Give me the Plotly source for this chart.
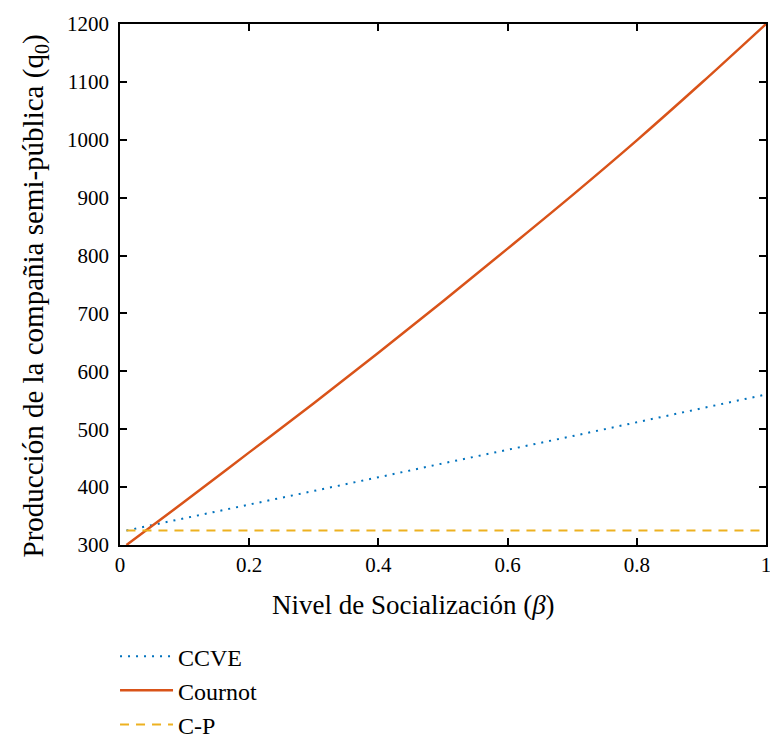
import plotly.graph_objects as go

beta = [0.01, 0.1, 0.2, 0.3, 0.4, 0.5, 0.6, 0.7, 0.8, 0.9, 1.0]
ccve = [325, 346, 370, 393, 417, 441, 464, 488, 512, 536, 560]
cournot = [300, 375, 460, 545, 632, 721, 812, 904, 999, 1098, 1200]
cp = [325, 325, 325, 325, 325, 325, 325, 325, 325, 325, 325]

x_title = "Nivel de Socialización (<i>β</i>)"
y_title = "Producción de la compañia semi-pública (q<sub>0</sub>)"

FONT = "Liberation Serif"

fig = go.Figure()
fig.add_trace(go.Scatter(x=beta, y=ccve, mode="lines", name="CCVE",
                         line=dict(color="#0072BD", width=2, dash="2px,6px")))
fig.add_trace(go.Scatter(x=beta, y=cournot, mode="lines", name="Cournot",
                         line=dict(color="#D95319", width=2.5), line_shape="spline"))
fig.add_trace(go.Scatter(x=beta, y=cp, mode="lines", name="C-P",
                         line=dict(color="#EDB120", width=2, dash="9px,7px")))

fig.update_layout(
    width=770, height=737,
    margin=dict(l=120, r=4, t=24, b=192, autoexpand=False),
    plot_bgcolor="white", paper_bgcolor="white",
    font=dict(family=FONT, size=21, color="black"),
    legend=dict(x=-0.0077, y=-0.1709, xanchor="left", yanchor="top",
                font=dict(size=24, family=FONT), itemwidth=53,
                bgcolor="rgba(0,0,0,0)"),
    xaxis=dict(range=[0, 1], tickvals=[0, 0.2, 0.4, 0.6, 0.8, 1],
               ticktext=["0", "0.2", "0.4", "0.6", "0.8", "1"],
               ticks="inside", ticklen=7, tickwidth=1.5, tickcolor="black",
               showline=True, linecolor="black", linewidth=1.5, mirror="ticks",
               showgrid=False, zeroline=False, automargin=False,
               ticklabeloverflow="allow", tickfont=dict(size=21)),
    yaxis=dict(range=[300, 1200], dtick=100,
               ticks="inside", ticklen=7, tickwidth=1.5, tickcolor="black",
               showline=True, linecolor="black", linewidth=1.5, mirror="ticks",
               showgrid=False, zeroline=False, automargin=False,
               ticklabeloverflow="allow", tickfont=dict(size=21), ticklabelstandoff=5),
    annotations=[
        dict(text=x_title, xref="paper", yref="paper", x=0.4545, y=-0.115,
             xanchor="center", yanchor="middle", showarrow=False,
             font=dict(size=27, family=FONT)),
        dict(text=y_title, xref="paper", yref="paper", x=-0.1316, y=0.479,
             xanchor="center", yanchor="middle", textangle=-90, showarrow=False,
             font=dict(size=29, family=FONT)),
    ],
)

fig.write_html("out.html", config={"displayModeBar": False},
               post_script="document.body.style.margin='0';document.body.style.overflow='hidden';")
